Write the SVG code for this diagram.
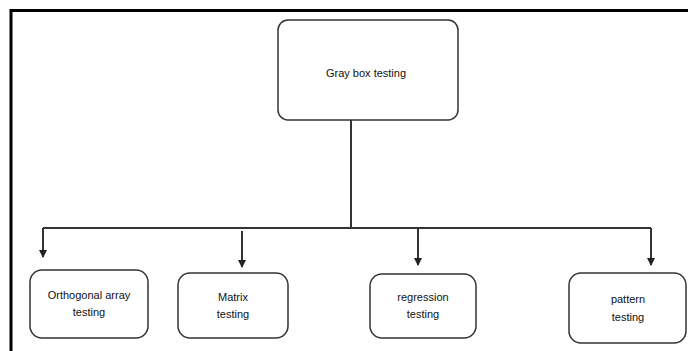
<svg xmlns="http://www.w3.org/2000/svg" width="688" height="351" viewBox="0 0 688 351">
<style>
.frame{fill:none;stroke:#000;stroke-width:3}
.box{fill:#fff;stroke:#333;stroke-width:1.5}
.conn{fill:none;stroke:#333;stroke-width:2}
text{font-family:"Liberation Sans",Arial,sans-serif;font-size:11px;fill:#111;text-anchor:middle}
</style>
<defs>
<marker id="arr" viewBox="0 0 8 10" refX="7" refY="5" markerWidth="8" markerHeight="10" markerUnits="userSpaceOnUse" orient="auto">
<path d="M0,1 L8,5 L0,9 Z" fill="#222"/>
</marker>
</defs>
<rect width="688" height="351" fill="#fff"/>
<path class="frame" d="M11,351 V10.5 H688"/>
<g id="connectors">
<path class="conn" d="M351,120 V228"/>
<path class="conn" d="M43,228 H651"/>
<path class="conn" d="M43,228 V257" marker-end="url(#arr)"/>
<path class="conn" d="M242,231 V267" marker-end="url(#arr)"/>
<path class="conn" d="M418,228 V265" marker-end="url(#arr)"/>
<path class="conn" d="M651,228 V265" marker-end="url(#arr)"/>
</g>
<g id="gray">
<rect class="box" x="278" y="20" width="180" height="100" rx="10"/>
<text x="366" y="77">Gray box testing</text>
</g>
<g id="orthogonal">
<rect class="box" x="30" y="270" width="118" height="68" rx="12"/>
<text x="89" y="299">Orthogonal array</text>
<text x="89" y="316">testing</text>
</g>
<g id="matrix">
<rect class="box" x="178" y="273" width="110" height="65" rx="12"/>
<text x="233" y="301">Matrix</text>
<text x="233" y="318">testing</text>
</g>
<g id="regression">
<rect class="box" x="370" y="274" width="106" height="64" rx="12"/>
<text x="423" y="301">regression</text>
<text x="423" y="318">testing</text>
</g>
<g id="pattern">
<rect class="box" x="569" y="273" width="117" height="70" rx="12"/>
<text x="628" y="303">pattern</text>
<text x="628" y="321">testing</text>
</g>
</svg>
